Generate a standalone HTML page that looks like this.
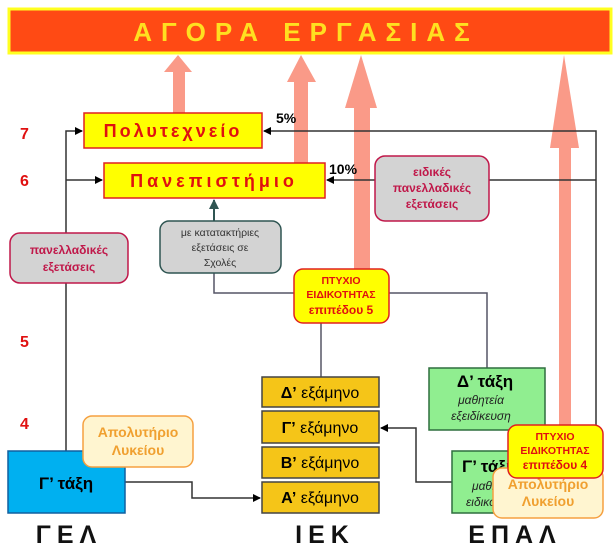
<!DOCTYPE html>
<html><head><meta charset="utf-8"><style>
body{margin:0;background:#fff;}
svg{display:block;font-family:"Liberation Sans",sans-serif;}
</style></head><body>
<svg width="616" height="554" viewBox="0 0 616 554" xmlns="http://www.w3.org/2000/svg">
<defs>
<marker id="ab" markerWidth="8" markerHeight="8" refX="7" refY="4" orient="auto" markerUnits="userSpaceOnUse"><path d="M0,0 L8,4 L0,8 z" fill="#000"/></marker>
<marker id="at" markerWidth="10" markerHeight="10" refX="9" refY="5" orient="auto" markerUnits="userSpaceOnUse"><path d="M0,0 L10,5 L0,10 z" fill="#2F5552"/></marker>
</defs>
<!-- top bar -->
<rect x="9" y="9" width="602" height="44" fill="#FF4A14" stroke="#FFFF20" stroke-width="3"/>
<text x="306" y="41" text-anchor="middle" font-size="26" font-weight="bold" fill="#FFE020" letter-spacing="9">ΑΓΟΡΑ ΕΡΓΑΣΙΑΣ</text>
<!-- salmon arrows -->
<g fill="#FA9A88">
<rect x="173" y="71" width="12" height="43"/><path d="M164,72 L192,72 L178,55 z"/>
<rect x="294" y="81" width="14" height="83"/><path d="M287,82 L316,82 L301,55 z"/>
<rect x="354" y="107" width="16" height="163"/><path d="M345,108 L377,108 L361,55 z"/>
<rect x="559" y="147" width="12" height="280"/><path d="M550,148 L579,148 L564,55 z"/>
</g>
<!-- lines -->
<g stroke="#333" stroke-width="1.5" fill="none">
<path d="M66,451 L66,131 L82,131" marker-end="url(#ab)"/>
<path d="M66,180 L102,180" marker-end="url(#ab)"/>
<path d="M596,425 L596,131 L264,131" marker-end="url(#ab)"/>
<path d="M596,180 L327,180" marker-end="url(#ab)"/>
<path d="M125,482 L192,482 L192,498 L260,498" marker-end="url(#ab)"/>
<path d="M452,482 L416,482 L416,428 L381,428" marker-end="url(#ab)"/>
</g>
<g stroke="#556" stroke-width="1.5" fill="none">
<path d="M214,273 L214,293 L294,293"/>
<path d="M389,293 L487,293 L487,368"/>
<path d="M321,323 L321,377"/>
<path d="M214,221 L214,200" stroke="#2F5552" stroke-width="2" marker-end="url(#at)"/>
</g>
<!-- level numbers -->
<g fill="#E01010" font-size="16" font-weight="bold">
<text x="20" y="139">7</text><text x="20" y="186">6</text><text x="20" y="347">5</text><text x="20" y="429">4</text>
</g>
<text x="276" y="123" font-size="14" font-weight="bold">5%</text>
<text x="329" y="174" font-size="14" font-weight="bold">10%</text>
<!-- uni boxes -->
<rect x="84" y="113" width="178" height="35" fill="#FFFF00" stroke="#E02020" stroke-width="1.5"/>
<text x="173" y="137" text-anchor="middle" font-size="18" font-weight="bold" fill="#E01010" letter-spacing="3">Πολυτεχνείο</text>
<rect x="104" y="163" width="221" height="35" fill="#FFFF00" stroke="#E02020" stroke-width="1.5"/>
<text x="214" y="187" text-anchor="middle" font-size="18" font-weight="bold" fill="#E01010" letter-spacing="4">Πανεπιστήμιο</text>
<!-- grey boxes -->
<rect x="375" y="156" width="114" height="65" rx="10" fill="#D3D3D3" stroke="#C0184A" stroke-width="1.5"/>
<g fill="#C0184A" font-size="12" font-weight="bold" text-anchor="middle">
<text x="432" y="176">ειδικές</text><text x="432" y="192">πανελλαδικές</text><text x="432" y="208">εξετάσεις</text>
</g>
<rect x="10" y="233" width="118" height="50" rx="10" fill="#D3D3D3" stroke="#C0184A" stroke-width="1.5"/>
<g fill="#C0184A" font-size="12" font-weight="bold" text-anchor="middle">
<text x="69" y="254">πανελλαδικές</text><text x="69" y="271">εξετάσεις</text>
</g>
<rect x="160" y="221" width="121" height="52" rx="9" fill="#D3D3D3" stroke="#2F5552" stroke-width="1.5"/>
<g fill="#333" font-size="10.5" text-anchor="middle">
<text x="220" y="236">με κατατακτήριες</text><text x="220" y="251">εξετάσεις σε</text><text x="220" y="266">Σχολές</text>
</g>
<!-- ptychio 5 -->
<rect x="294" y="269" width="95" height="54" rx="9" fill="#FFFF00" stroke="#E02020" stroke-width="1.5"/>
<g fill="#E01010" font-size="10.5" font-weight="bold" text-anchor="middle">
<text x="341" y="284">ΠΤΥΧΙΟ</text><text x="341" y="298">ΕΙΔΙΚΟΤΗΤΑΣ</text><text x="341" y="314" font-size="12">επιπέδου 5</text>
</g>
<!-- IEK -->
<g fill="#F5C518" stroke="#444" stroke-width="1.5">
<rect x="262" y="377" width="117" height="30"/><rect x="262" y="411" width="117" height="32"/>
<rect x="262" y="447" width="117" height="31"/><rect x="262" y="482" width="117" height="31"/>
</g>
<g font-size="16" fill="#000" text-anchor="middle">
<text x="320" y="398"><tspan font-weight="bold">Δ’</tspan> εξάμηνο</text>
<text x="320" y="433"><tspan font-weight="bold">Γ’</tspan> εξάμηνο</text>
<text x="320" y="468"><tspan font-weight="bold">Β’</tspan> εξάμηνο</text>
<text x="320" y="503"><tspan font-weight="bold">Α’</tspan> εξάμηνο</text>
</g>
<!-- EPAL -->
<rect x="429" y="368" width="116" height="62" fill="#90EE90" stroke="#2F6F3F" stroke-width="1.5"/>
<text x="485" y="387" text-anchor="middle" font-size="17" font-weight="bold">Δ’ τάξη</text>
<g font-size="12" font-style="italic" text-anchor="middle" fill="#222">
<text x="481" y="404">μαθητεία</text><text x="481" y="420">εξειδίκευση</text>
</g>
<rect x="452" y="451" width="90" height="62" fill="#90EE90" stroke="#2F6F3F" stroke-width="1.5"/>
<text x="462" y="472" font-size="17" font-weight="bold">Γ’ τάξη</text>
<g font-size="12" font-style="italic" fill="#222"><text x="472" y="490">μαθητεία</text><text x="466" y="506">ειδικότητα</text></g>
<rect x="493" y="468" width="110" height="50" rx="9" fill="#FFF5D0" stroke="#F5A040" stroke-width="1.5"/>
<g fill="#F0A030" font-size="14" font-weight="bold" text-anchor="middle">
<text x="548" y="489">Απολυτήριο</text><text x="548" y="506">Λυκείου</text>
</g>
<rect x="508" y="425" width="95" height="53" rx="9" fill="#FFFF00" stroke="#E02020" stroke-width="1.5"/>
<g fill="#E01010" font-size="10.5" font-weight="bold" text-anchor="middle">
<text x="555" y="440">ΠΤΥΧΙΟ</text><text x="555" y="454">ΕΙΔΙΚΟΤΗΤΑΣ</text><text x="555" y="469" font-size="12">επιπέδου 4</text>
</g>
<!-- GEL -->
<rect x="8" y="451" width="117" height="62" fill="#00B0F0" stroke="#1060A0" stroke-width="1.5"/>
<text x="66" y="489" text-anchor="middle" font-size="17" font-weight="bold">Γ’ τάξη</text>
<rect x="83" y="416" width="110" height="51" rx="9" fill="#FFF5D0" stroke="#F5A040" stroke-width="1.5"/>
<g fill="#F0A030" font-size="14" font-weight="bold" text-anchor="middle">
<text x="138" y="437">Απολυτήριο</text><text x="138" y="455">Λυκείου</text>
</g>
<!-- bottom labels -->
<g font-size="25" font-weight="bold" fill="#111" text-anchor="middle" letter-spacing="6">
<text x="69" y="543">ΓΕΛ</text><text x="325" y="543">ΙΕΚ</text><text x="515" y="543">ΕΠΑΛ</text>
</g>
</svg>
</body></html>
